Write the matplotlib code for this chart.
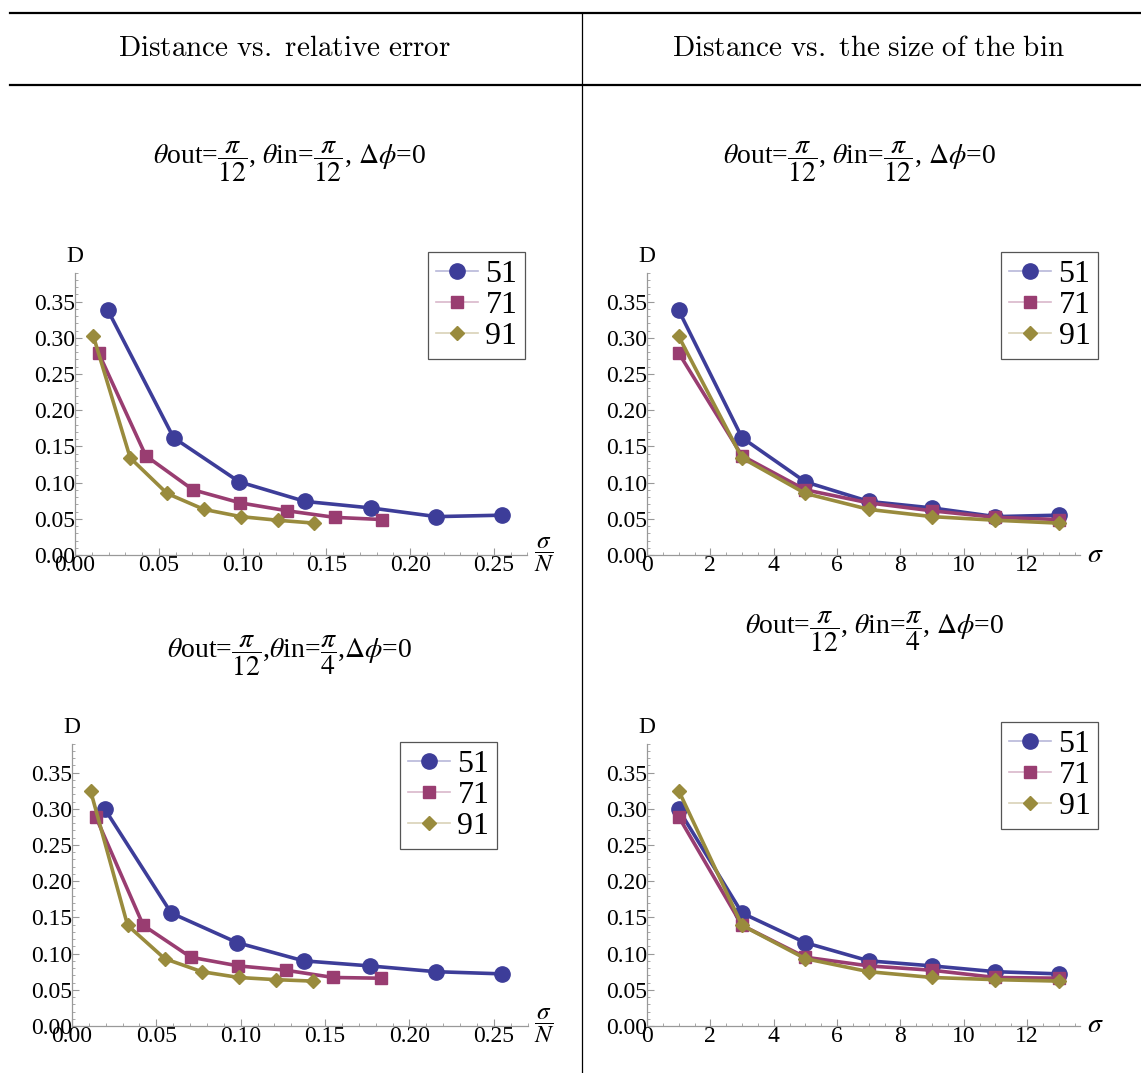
import matplotlib
matplotlib.use("Agg")
import matplotlib.pyplot as plt
import numpy as np
from matplotlib.lines import Line2D
from matplotlib.ticker import MultipleLocator, FormatStrFormatter

W, H = 1141, 1073

plt.rcParams["font.family"] = ["Liberation Serif", "DejaVu Serif"]
plt.rcParams["mathtext.fontset"] = "stix"

# Mathematica default colours
COLORS = {51: "#3d3d99", 71: "#993d71", 91: "#998b3d"}
LIGHT = {51: "#b8b8d9", 71: "#d9b8cb", 91: "#d9d2b8"}
MARKERS = {51: ("o", 11), 71: ("s", 9), 91: ("D", 7.5)}

N_VALUES = [51, 71, 91]
SIGMA = np.array([1, 3, 5, 7, 9, 11, 13])

# theta_out = pi/12, theta_in = pi/12
D_TOP = {
    51: [0.338, 0.162, 0.101, 0.074, 0.065, 0.053, 0.055],
    71: [0.279, 0.137, 0.090, 0.072, 0.061, 0.052, 0.049],
    91: [0.302, 0.134, 0.085, 0.063, 0.053, 0.048, 0.044],
}
# theta_out = pi/12, theta_in = pi/4
D_BOTTOM = {
    51: [0.299, 0.156, 0.115, 0.090, 0.083, 0.075, 0.072],
    71: [0.289, 0.139, 0.095, 0.083, 0.077, 0.067, 0.066],
    91: [0.325, 0.139, 0.093, 0.075, 0.067, 0.064, 0.062],
}

TITLE_TOP = r"$\theta$out=$\dfrac{\pi}{12}$, $\theta$in=$\dfrac{\pi}{12}$, $\Delta\phi$=0"
TITLE_BL = r"$\theta$out=$\dfrac{\pi}{12}$,$\theta$in=$\dfrac{\pi}{4}$,$\Delta\phi$=0"
TITLE_BR = r"$\theta$out=$\dfrac{\pi}{12}$, $\theta$in=$\dfrac{\pi}{4}$, $\Delta\phi$=0"


def px_rect(x0, y0, x1, y1):
    return [x0 / W, 1 - y1 / H, (x1 - x0) / W, (y1 - y0) / H]


def style_axes(ax, relative):
    for side in ("top", "right"):
        ax.spines[side].set_visible(False)
    for side in ("left", "bottom"):
        ax.spines[side].set_color("#999999")
        ax.spines[side].set_linewidth(0.9)
    ax.set_ylim(0, 0.39)
    ax.yaxis.set_major_locator(MultipleLocator(0.05))
    ax.yaxis.set_minor_locator(MultipleLocator(0.01))
    ax.yaxis.set_major_formatter(FormatStrFormatter("%.2f"))
    if relative:
        ax.set_xlim(0, 0.27)
        ax.xaxis.set_major_locator(MultipleLocator(0.05))
        ax.xaxis.set_minor_locator(MultipleLocator(0.01))
        ax.xaxis.set_major_formatter(FormatStrFormatter("%.2f"))
    else:
        ax.set_xlim(0, 13.67)
        ax.xaxis.set_major_locator(MultipleLocator(2))
        ax.xaxis.set_minor_locator(MultipleLocator(0.5))
    ax.tick_params(which="both", direction="in", color="#999999", labelsize=17, pad=0)
    ax.tick_params(which="major", length=5, width=0.8)
    ax.tick_params(which="minor", length=2.5, width=0.6)
    ax.annotate("D", xy=(0, 1), xycoords="axes fraction", xytext=(0, 4),
                textcoords="offset points", ha="center", va="bottom", fontsize=17)
    if relative:
        ax.annotate(r"$\dfrac{\sigma}{N}$", xy=(1, 0), xycoords="axes fraction",
                    xytext=(5, 0), textcoords="offset points", ha="left",
                    va="center", fontsize=18)
    else:
        ax.annotate(r"$\sigma$", xy=(1, 0), xycoords="axes fraction",
                    xytext=(5, 0), textcoords="offset points", ha="left",
                    va="center", fontsize=20)


def draw_panel(ax, data, relative, legend_xy):
    for n in N_VALUES:
        x = SIGMA / n if relative else SIGMA
        m, ms = MARKERS[n]
        ax.plot(x, data[n], color=COLORS[n], lw=2.6, marker=m, ms=ms,
                clip_on=False, zorder=3)
    handles = [
        Line2D([], [], color=LIGHT[n], lw=1.2, marker=MARKERS[n][0],
               ms=MARKERS[n][1], markerfacecolor=COLORS[n],
               markeredgecolor=COLORS[n])
        for n in N_VALUES
    ]
    fig = ax.figure
    leg = ax.legend(handles, [str(n) for n in N_VALUES], loc="upper left",
                    bbox_to_anchor=(legend_xy[0] / W, 1 - legend_xy[1] / H),
                    bbox_transform=fig.transFigure, borderaxespad=0,
                    fancybox=False, framealpha=1, edgecolor="#555555",
                    fontsize=23, handlelength=1.3, handletextpad=0.25,
                    labelspacing=0.05, borderpad=0.25)
    leg.get_frame().set_linewidth(0.9)


fig = plt.figure(figsize=(W / 100, H / 100), dpi=100)

# table rules
fig.add_artist(Line2D([10 / W, 1], [1 - 13 / H] * 2, color="black", lw=1.6))
fig.add_artist(Line2D([10 / W, 1], [1 - 85 / H] * 2, color="black", lw=1.6))
fig.add_artist(Line2D([582 / W] * 2, [0, 1 - 13 / H], color="black", lw=0.9))

fig.text(285 / W, 1 - 49 / H, r"$\mathrm{Distance\ vs.\ relative\ error}$",
         ha="center", va="center", fontsize=21, math_fontfamily="cm")
fig.text(868 / W, 1 - 49 / H, r"$\mathrm{Distance\ vs.\ the\ size\ of\ the\ bin}$",
         ha="center", va="center", fontsize=21, math_fontfamily="cm")

fig.text(290 / W, 1 - 162 / H, TITLE_TOP, ha="center", va="center", fontsize=20)
fig.text(860 / W, 1 - 162 / H, TITLE_TOP, ha="center", va="center", fontsize=20)
fig.text(290 / W, 1 - 656 / H, TITLE_BL, ha="center", va="center", fontsize=20)
fig.text(875 / W, 1 - 632 / H, TITLE_BR, ha="center", va="center", fontsize=20)

ax_tl = fig.add_axes(px_rect(75, 272.6, 527.5, 555))
style_axes(ax_tl, True)
draw_panel(ax_tl, D_TOP, True, (428, 252))

ax_tr = fig.add_axes(px_rect(647, 272.6, 1080, 555))
style_axes(ax_tr, False)
draw_panel(ax_tr, D_TOP, False, (1001, 252))

ax_bl = fig.add_axes(px_rect(72, 743.6, 527.5, 1026))
style_axes(ax_bl, True)
draw_panel(ax_bl, D_BOTTOM, True, (400, 742))

ax_br = fig.add_axes(px_rect(647, 743.6, 1080, 1026))
style_axes(ax_br, False)
draw_panel(ax_br, D_BOTTOM, False, (1001, 722))

fig.savefig("out.png", dpi=100)
